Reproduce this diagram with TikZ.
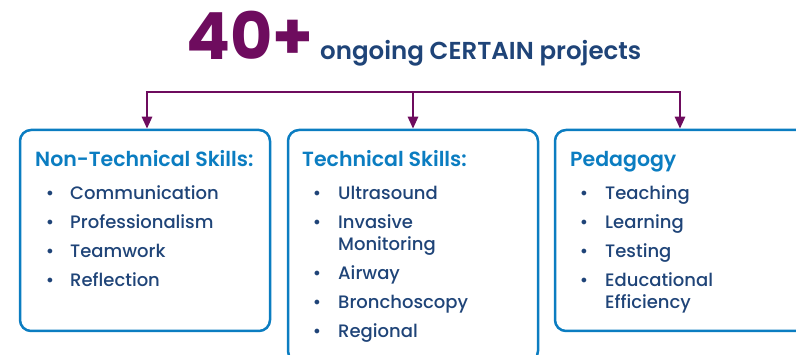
\documentclass[tikz,border=0pt]{standalone}
\usepackage{fontspec}
\setmainfont{Poppins}
\IfFontExistsTF{Poppins Medium}{\newfontfamily\itemfont{Poppins Medium}}{\newfontfamily\itemfont{Poppins}}
\IfFontExistsTF{Poppins SemiBold}{\newfontfamily\headfont{Poppins SemiBold}}{\newfontfamily\headfont{Poppins}[UprightFont=* Bold]}
\usetikzlibrary{arrows.meta}
\definecolor{purp}{HTML}{6E0C5E}
\definecolor{bblue}{HTML}{0B7DC1}
\definecolor{navy}{HTML}{1F4478}
\tikzset{
  skillbox/.style={draw=bblue, line width=2.5pt, rounded corners=11pt, rectangle, inner sep=0pt},
  arr/.style={draw=purp, line width=2.5pt, -{Triangle[length=12pt,width=10pt]}},
  bar/.style={draw=purp, line width=2.5pt},
  head/.style={anchor=base west, text=bblue, font=\fontsize{20.5}{22}\headfont, inner sep=0pt},
  item/.style={anchor=base west, text=navy, font=\fontsize{18}{22}\itemfont, inner sep=0pt},
  bul/.style={anchor=base, text=navy, font=\fontsize{18}{22}\itemfont, inner sep=0pt},
}
\begin{document}
\begin{tikzpicture}[x=1pt,y=-1pt]
\useasboundingbox (0,0) rectangle (796,355);
% title
\node[anchor=base west, inner sep=0pt, text=purp, font=\fontsize{65}{65}\selectfont\bfseries] (big) at (186,60) {40+};
\node[anchor=base west, inner sep=0pt, text=navy, font=\fontsize{24.5}{24}\headfont] (sub) at (320,60) {ongoing CERTAIN projects};
% boxes
\node[skillbox, minimum width=250pt, minimum height=201pt] (b1) at (145,230.5) {};
\node[skillbox, minimum width=250pt, minimum height=232pt] (b2) at (413,246) {};
\node[skillbox, minimum width=255pt, minimum height=201pt] (b3) at (682.5,230.5) {};
% connectors
\coordinate (c1) at (147,92);
\coordinate (c2) at (413,92);
\coordinate (c3) at (680,92);
\draw[bar] ([xshift=-1.25pt]c1) -- ([xshift=1.25pt]c3);
\draw[arr] (c1) -- (c1 |- b1.north);
\draw[arr] (c2) -- (c2 |- b2.north);
\draw[arr] (c3) -- (c3 |- b3.north);
% box 1
\node[head] (h1) at (35,167) {Non-Technical Skills:};
\foreach \t/\y [count=\i] in {Communication/200, Professionalism/229, Teamwork/258, Reflection/287}{
  \node[bul] (p1\i) at (50,\y) {•};
  \node[item] (t1\i) at (70,\y) {\t};
}
% box 2
\node[head] (h2) at (302,167) {Technical Skills:};
\foreach \t/\y [count=\i] in {Ultrasound/200, Airway/280, Bronchoscopy/309, Regional/338}{
  \node[bul] (p2\i) at (317,\y) {•};
  \node[item] (t2\i) at (338,\y) {\t};
}
\node[bul] (p2x) at (317,229) {•};
\node[item] (t2x) at (338,229) {Invasive};
\node[item] (t2y) at (338,251) {Monitoring};
% box 3
\node[head] (h3) at (570,167) {Pedagogy};
\foreach \t/\y [count=\i] in {Teaching/200, Learning/229, Testing/258, Educational/287}{
  \node[bul] (p3\i) at (584,\y) {•};
  \node[item] (t3\i) at (605,\y) {\t};
}
\node[item] (t3y) at (605,309) {Efficiency};
\end{tikzpicture}
\end{document}
